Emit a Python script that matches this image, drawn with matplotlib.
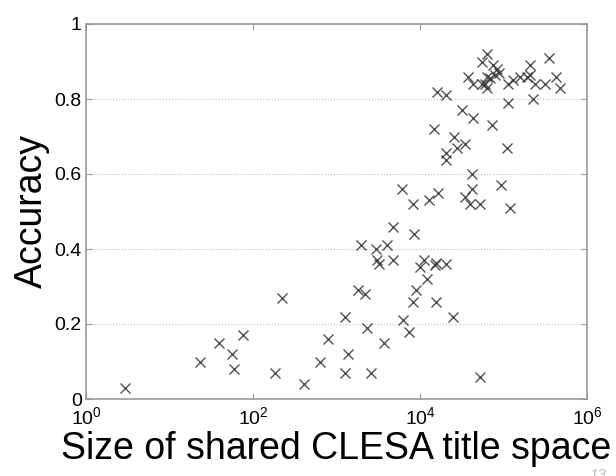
import numpy as np
import matplotlib.pyplot as plt

plt.rcParams['font.family'] = ['Liberation Sans', 'DejaVu Sans']
plt.rcParams['mathtext.fontset'] = 'custom'
plt.rcParams['mathtext.rm'] = 'Liberation Sans'
plt.rcParams['mathtext.it'] = 'Liberation Sans'

# shared title space size vs accuracy
space_size = [2.9, 23, 39, 56, 59, 76, 183, 222, 410, 630,
              790, 1250, 1380, 1270, 1950, 1820, 2190, 2300, 2590, 2940,
              3030, 3200, 3700, 4030, 4750, 4750, 6120, 6280, 7360, 8200,
              8500, 8200, 8850, 10000, 11100, 12200, 12700, 15000, 15700, 15500,
              16500, 14700, 15900, 20700, 20700, 20300, 20300, 24900, 25300, 28000,
              34600, 31800, 43000, 73000, 109000, 41600, 41600, 34600, 40000, 52000,
              52000, 93000, 120000, 113000, 227000, 350000, 207000, 420000, 480000, 314000,
              238000, 207000, 190000, 157000, 130000, 114000, 63000, 56000, 75000, 37900,
              43500, 56000, 63000, 60000, 63000, 69000, 79000, 83000, 88000]
accuracy = [0.03, 0.10, 0.15, 0.12, 0.08, 0.17, 0.07, 0.27, 0.04, 0.10,
            0.16, 0.22, 0.12, 0.07, 0.41, 0.29, 0.28, 0.19, 0.07, 0.40,
            0.37, 0.36, 0.15, 0.41, 0.46, 0.37, 0.56, 0.21, 0.18, 0.52,
            0.44, 0.26, 0.29, 0.353, 0.372, 0.32, 0.53, 0.357, 0.362, 0.26,
            0.55, 0.72, 0.82, 0.81, 0.36, 0.655, 0.637, 0.22, 0.70, 0.67,
            0.68, 0.77, 0.75, 0.73, 0.67, 0.60, 0.56, 0.54, 0.52, 0.52,
            0.06, 0.57, 0.51, 0.79, 0.80, 0.91, 0.89, 0.86, 0.83, 0.84,
            0.84, 0.864, 0.86, 0.86, 0.85, 0.84, 0.92, 0.90, 0.89, 0.86,
            0.84, 0.84, 0.86, 0.84, 0.83, 0.855, 0.864, 0.88, 0.87]

x_ticks = [1, 1e2, 1e4, 1e6]
y_ticks = [0, 0.2, 0.4, 0.6, 0.8, 1]
y_ticklabels = ['0', '0.2', '0.4', '0.6', '0.8', '1']

fig = plt.figure(figsize=(6.16, 4.76), dpi=100)
ax = fig.add_axes([86 / 616, 77 / 476, 501 / 616, 375 / 476])

# scatter of x markers
ax.plot(space_size, accuracy, linestyle='none', marker='x', markersize=7,
        markeredgewidth=1.0, color='#333333', alpha=0.85)

ax.set_xscale('log')
ax.set_xlim(1, 1e6)
ax.set_ylim(0, 1)
ax.set_xticks(x_ticks)
ax.minorticks_off()
ax.set_yticks(y_ticks)
ax.set_yticklabels(y_ticklabels)

# dotted horizontal grid only
ax.yaxis.grid(True, linestyle=':', color='#bbbbbb', linewidth=0.8)
ax.xaxis.grid(False)

for s in ax.spines.values():
    s.set_color('#999999')
    s.set_linewidth(1.2)

ax.tick_params(direction='in', length=4, width=0.8, color='#999999',
               top=True, right=True, labelsize=14, labelcolor='black')
ax.tick_params(axis='x', pad=5)
ax.tick_params(axis='y', pad=3)

ax.set_xlabel('Size of shared CLESA title space', fontsize=27, labelpad=2)
ax.set_ylabel('Accuracy', fontsize=27, labelpad=3)

# page number cut at the corner
fig.text(0.985, -0.012, '13', fontsize=11, color='#bbbbbb', ha='right', va='bottom',
         style='italic')

fig.savefig('out.png', dpi=100)
